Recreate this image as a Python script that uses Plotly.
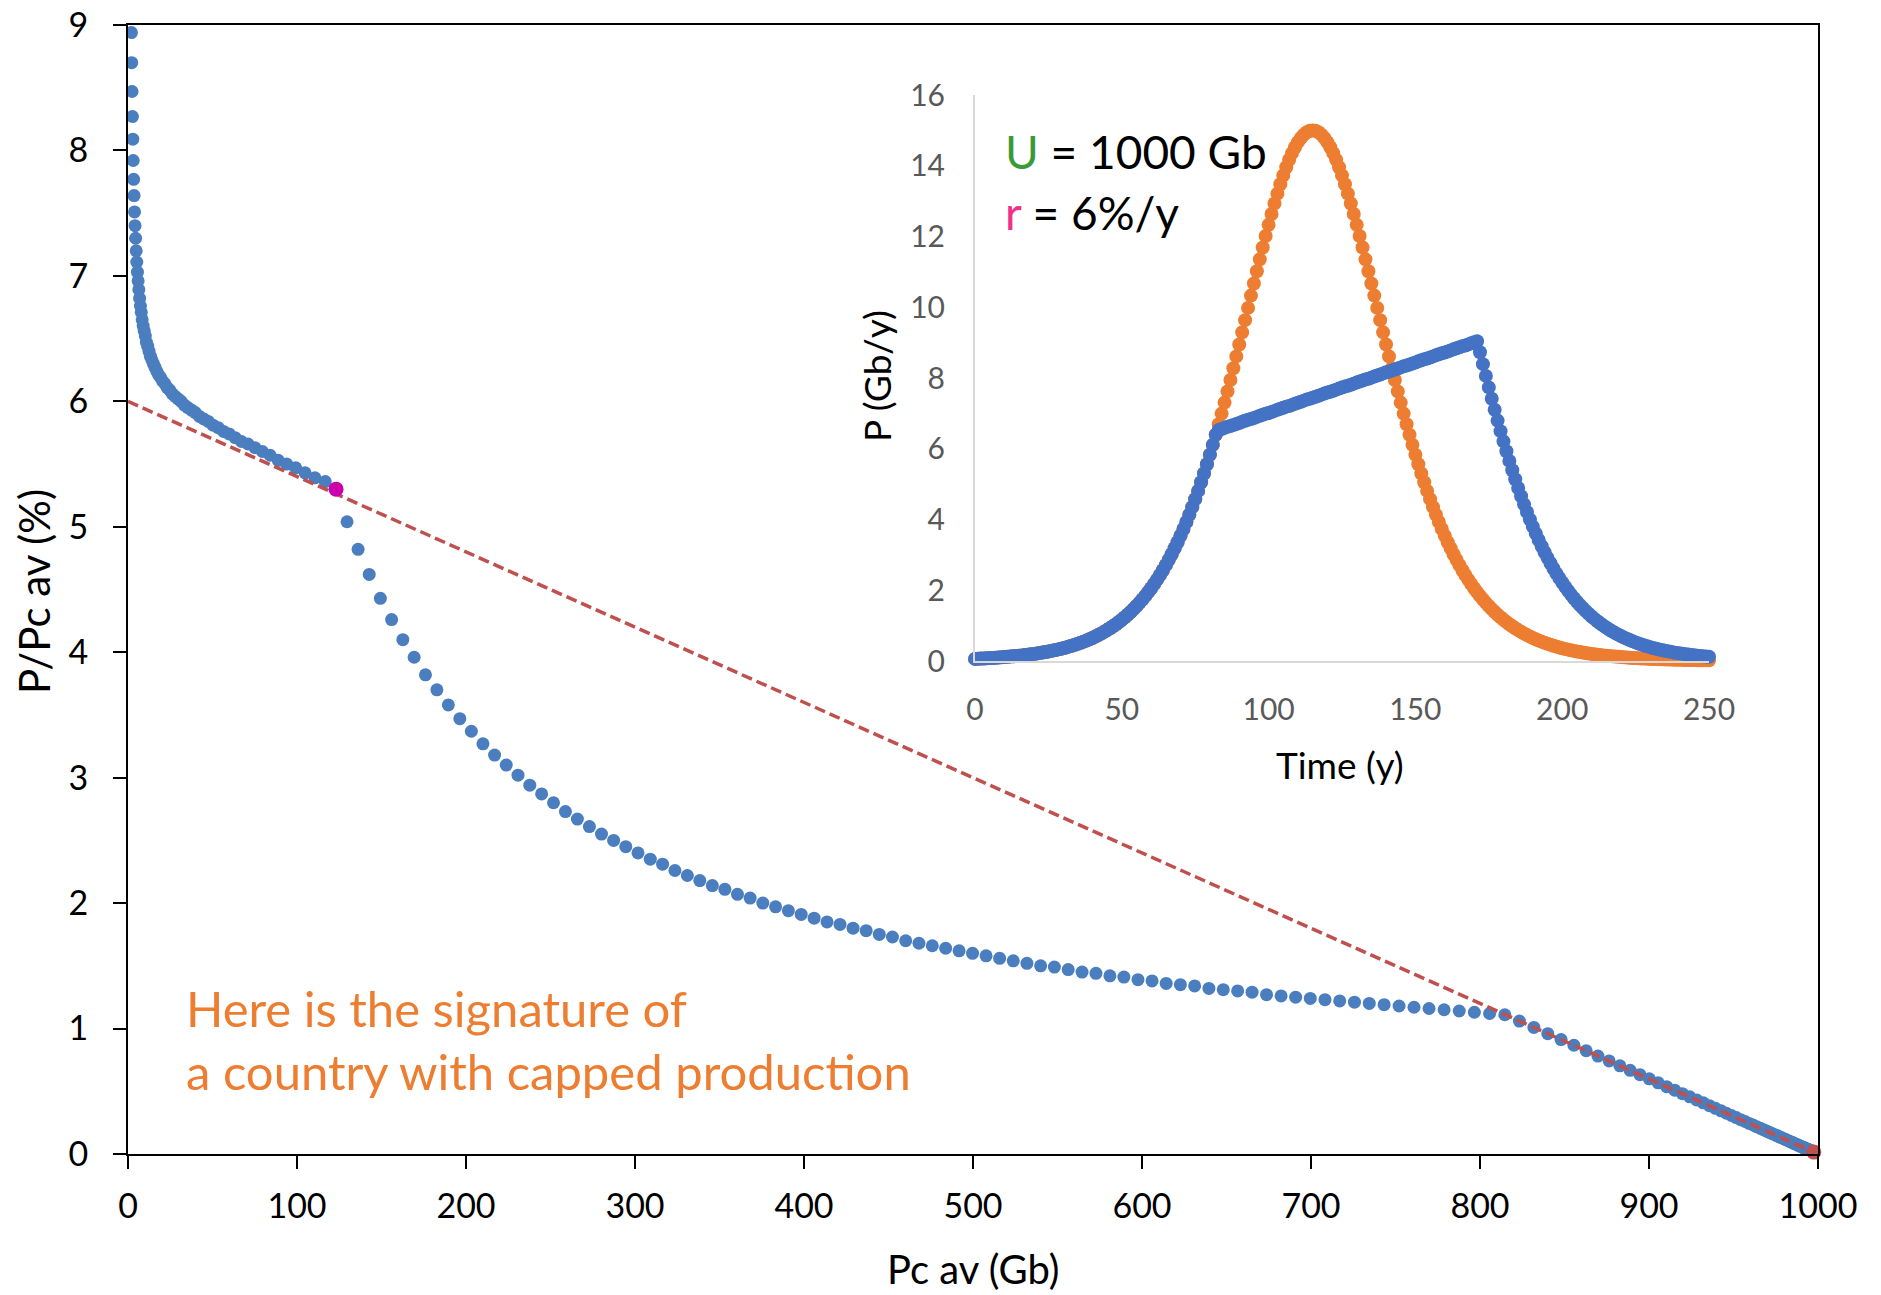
import plotly.graph_objects as go

# ---------------- main chart data (Pc av in Gb, P/Pc av in %) ----------------
pcav_early = [2.03, 2.21, 2.41, 2.62, 2.84, 3.08, 3.33, 3.60, 3.88, 4.18, 4.50, 4.84, 5.20, 5.58, 5.98,
              6.41, 6.87, 7.35, 7.86, 8.40, 8.98, 9.59, 10.24, 10.92, 11.65, 12.42, 13.24, 14.11, 15.03, 16.00,
              17.04, 18.13, 19.29, 20.52, 21.82, 23.20, 24.66, 26.20, 27.84, 29.57, 31.40, 33.34, 35.39, 37.56, 39.84,
              42.25, 44.81, 47.50, 50.35, 53.38, 56.53, 59.89, 63.42, 67.15, 71.04, 75.17, 79.55, 84.11, 88.89, 93.92,
              99.22, 104.78, 110.61, 116.70, 123.10]
ratio_early = [8.94, 8.70, 8.47, 8.27, 8.09, 7.92, 7.77, 7.64, 7.51, 7.40, 7.30, 7.20, 7.11, 7.03, 6.96,
               6.89, 6.82, 6.76, 6.71, 6.65, 6.60, 6.56, 6.52, 6.47, 6.44, 6.40, 6.36, 6.33, 6.30, 6.27,
               6.24, 6.21, 6.19, 6.16, 6.14, 6.11, 6.09, 6.06, 6.04, 6.02, 6.00, 5.97, 5.95, 5.93, 5.91,
               5.88, 5.86, 5.84, 5.81, 5.79, 5.76, 5.74, 5.71, 5.68, 5.66, 5.63, 5.60, 5.57, 5.53, 5.50,
               5.47, 5.43, 5.39, 5.36, 5.30]
pcav_capped = [129.61, 136.16, 142.73, 149.34, 155.97, 162.62, 169.31, 176.02, 182.77, 189.55,
               196.35, 203.17, 210.03, 216.92, 223.83, 230.77, 237.75, 244.75, 251.78, 258.83,
               265.92, 273.03, 280.17, 287.35, 294.55, 301.78, 309.04, 316.32, 323.63, 330.98,
               338.35, 345.75, 353.18, 360.63, 368.12, 375.63, 383.18, 390.75, 398.35, 405.98,
               413.63, 421.31, 429.03, 436.78, 444.55, 452.34, 460.17, 468.03, 475.91, 483.83,
               491.77, 499.74, 507.74, 515.76, 523.82, 531.90, 540.02, 548.16, 556.33, 564.53,
               572.75, 581.01, 589.29, 597.61, 605.95, 614.32, 622.71, 631.14, 639.59, 648.08,
               656.60, 665.13, 673.70, 682.30, 690.92, 699.58, 708.27, 716.98, 725.72, 734.48,
               743.28, 752.11, 760.96, 769.85, 778.76, 787.70, 796.67, 805.66, 814.68]
ratio_capped = [5.04, 4.82, 4.62, 4.43, 4.26, 4.10, 3.96, 3.82, 3.70, 3.58,
                3.47, 3.37, 3.27, 3.18, 3.10, 3.02, 2.94, 2.87, 2.80, 2.73,
                2.67, 2.61, 2.55, 2.50, 2.45, 2.40, 2.35, 2.31, 2.26, 2.22,
                2.18, 2.14, 2.11, 2.07, 2.04, 2.00, 1.97, 1.94, 1.91, 1.88,
                1.85, 1.83, 1.80, 1.78, 1.75, 1.73, 1.70, 1.68, 1.66, 1.64,
                1.62, 1.60, 1.58, 1.56, 1.54, 1.52, 1.50, 1.49, 1.47, 1.45,
                1.44, 1.42, 1.41, 1.39, 1.38, 1.36, 1.35, 1.34, 1.32, 1.31,
                1.30, 1.29, 1.27, 1.26, 1.25, 1.24, 1.23, 1.22, 1.21, 1.20,
                1.19, 1.18, 1.17, 1.16, 1.15, 1.14, 1.13, 1.12, 1.11]
pcav_decline = [823.32, 831.88, 840.10, 847.99, 855.57, 862.83, 869.78, 876.42, 882.78, 888.85,
                894.64, 900.16, 905.43, 910.44, 915.21, 919.76, 924.08, 928.18, 932.08, 935.78,
                939.29, 942.62, 945.79, 948.78, 951.62, 954.31, 956.86, 959.27, 961.55, 963.71,
                965.75, 967.68, 969.50, 971.23, 972.86, 974.40, 975.86, 977.23, 978.53, 979.75,
                980.91, 982.00, 983.03, 984.00, 984.92, 985.79, 986.60, 987.37, 988.10, 988.79,
                989.43, 990.04, 990.62, 991.16, 991.67, 992.15, 992.60, 993.03, 993.43, 993.82,
                994.17, 994.51, 994.83, 995.12, 995.41, 995.68, 995.93, 996.16, 996.38, 996.59,
                996.79, 996.98, 997.16, 997.32, 997.48, 997.63, 997.77, 997.89, 998.01]
ratio_decline = [1.060, 1.009, 0.959, 0.912, 0.867, 0.823, 0.781, 0.742, 0.703, 0.667,
                 0.632, 0.599, 0.567, 0.537, 0.509, 0.481, 0.456, 0.431, 0.408, 0.385,
                 0.364, 0.344, 0.325, 0.307, 0.290, 0.274, 0.259, 0.244, 0.231, 0.218,
                 0.206, 0.194, 0.183, 0.173, 0.163, 0.154, 0.145, 0.137, 0.129, 0.122,
                 0.115, 0.108, 0.102, 0.096, 0.091, 0.085, 0.080, 0.076, 0.071, 0.067,
                 0.063, 0.060, 0.056, 0.053, 0.050, 0.047, 0.044, 0.042, 0.039, 0.037,
                 0.035, 0.033, 0.031, 0.029, 0.028, 0.026, 0.024, 0.023, 0.022, 0.021,
                 0.019, 0.018, 0.017, 0.016, 0.015, 0.014, 0.013, 0.013, 0.012]
cap_point = [123.10, 5.30]          # start of capped production
hubbert_line_x = [0, 1000]          # logistic reference line
hubbert_line_y = [6, 0]
end_point = [997.5, 0.015]          # U

main_xticks = [0, 100, 200, 300, 400, 500, 600, 700, 800, 900, 1000]
main_yticks = [0, 1, 2, 3, 4, 5, 6, 7, 8, 9]

# ---------------- inset data (P in Gb/y vs time in years) ----------------
years = list(range(0, 251))
logistic_prod = [
    0.060, 0.064, 0.068, 0.072, 0.077, 0.082, 0.086, 0.092, 0.098, 0.104, 0.110, 0.117, 0.124, 0.131, 0.139,
    0.148, 0.157, 0.167, 0.177, 0.188, 0.200, 0.212, 0.225, 0.239, 0.253, 0.269, 0.285, 0.302, 0.321, 0.340,
    0.362, 0.383, 0.407, 0.432, 0.458, 0.486, 0.515, 0.547, 0.580, 0.615, 0.652, 0.692, 0.733, 0.777, 0.824,
    0.874, 0.926, 0.981, 1.039, 1.101, 1.167, 1.236, 1.309, 1.386, 1.467, 1.553, 1.644, 1.740, 1.840, 1.947,
    2.058, 2.176, 2.300, 2.430, 2.567, 2.710, 2.861, 3.019, 3.186, 3.358, 3.541, 3.731, 3.928, 4.136, 4.351,
    4.575, 4.809, 5.051, 5.302, 5.563, 5.832, 6.110, 6.396, 6.691, 6.993, 7.304, 7.621, 7.945, 8.275, 8.610,
    8.949, 9.291, 9.636, 9.982, 10.329, 10.673, 11.016, 11.354, 11.687, 12.013, 12.330, 12.637, 12.932, 13.212, 13.478,
    13.727, 13.957, 14.168, 14.357, 14.524, 14.668, 14.786, 14.879, 14.946, 14.987,
    15.000,
    14.987, 14.946, 14.879, 14.786, 14.668, 14.524, 14.357, 14.168, 13.957, 13.727, 13.478, 13.212, 12.932, 12.637, 12.330,
    12.013, 11.687, 11.354, 11.016, 10.673, 10.329, 9.982, 9.636, 9.291, 8.949, 8.610, 8.275, 7.945, 7.621, 7.304,
    6.993, 6.691, 6.396, 6.110, 5.832, 5.563, 5.302, 5.051, 4.809, 4.575, 4.351, 4.136, 3.928, 3.731, 3.541,
    3.358, 3.186, 3.019, 2.861, 2.710, 2.567, 2.430, 2.300, 2.176, 2.058, 1.947, 1.840, 1.740, 1.644, 1.553,
    1.467, 1.386, 1.309, 1.236, 1.167, 1.101, 1.039, 0.981, 0.926, 0.874, 0.824, 0.777, 0.733, 0.692, 0.652,
    0.615, 0.580, 0.547, 0.515, 0.486, 0.458, 0.432, 0.407, 0.383, 0.362, 0.340, 0.321, 0.302, 0.285, 0.269,
    0.253, 0.239, 0.225, 0.212, 0.200, 0.188, 0.177, 0.167, 0.157, 0.148, 0.139, 0.131, 0.124, 0.117, 0.110,
    0.104, 0.098, 0.092, 0.086, 0.082, 0.077, 0.072, 0.068, 0.064, 0.060, 0.057, 0.054, 0.050, 0.048, 0.045,
    0.042, 0.040, 0.037, 0.035, 0.033, 0.031, 0.029, 0.028, 0.026, 0.025, 0.023, 0.022, 0.021, 0.019, 0.018]
cap_start_year = 83
capped_prod_tail = [
    6.53, 6.56, 6.59, 6.62, 6.64, 6.67, 6.70, 6.73, 6.76, 6.79,
    6.82, 6.84, 6.87, 6.90, 6.93, 6.96, 6.99, 7.01, 7.04, 7.07,
    7.10, 7.13, 7.16, 7.19, 7.21, 7.24, 7.27, 7.30, 7.33, 7.36,
    7.39, 7.41, 7.44, 7.47, 7.50, 7.53, 7.56, 7.59, 7.61, 7.64,
    7.67, 7.70, 7.73, 7.76, 7.78, 7.81, 7.84, 7.87, 7.90, 7.93,
    7.96, 7.98, 8.01, 8.04, 8.07, 8.10, 8.13, 8.16, 8.18, 8.21,
    8.24, 8.27, 8.30, 8.33, 8.35, 8.38, 8.41, 8.44, 8.47, 8.50,
    8.53, 8.55, 8.58, 8.61, 8.64, 8.67, 8.70, 8.72, 8.75, 8.78,
    8.81, 8.84, 8.87, 8.90, 8.92, 8.95, 8.98, 9.01, 9.04,
    8.728, 8.392, 8.060, 7.734, 7.414, 7.101, 6.796, 6.498, 6.209, 5.928,
    5.656, 5.392, 5.138, 4.892, 4.656, 4.428, 4.210, 4.000, 3.798, 3.606,
    3.421, 3.245, 3.076, 2.916, 2.762, 2.616, 2.477, 2.345, 2.218, 2.099,
    1.985, 1.877, 1.774, 1.676, 1.584, 1.497, 1.414, 1.335, 1.260, 1.190,
    1.124, 1.061, 1.001, 0.945, 0.891, 0.841, 0.793, 0.748, 0.705, 0.665,
    0.627, 0.592, 0.558, 0.526, 0.496, 0.467, 0.440, 0.415, 0.392, 0.368,
    0.348, 0.327, 0.309, 0.291, 0.274, 0.258, 0.243, 0.229, 0.216, 0.204,
    0.192, 0.181, 0.170, 0.160, 0.151, 0.142, 0.134, 0.126, 0.119]
capped_prod = logistic_prod[:cap_start_year] + capped_prod_tail

inset_xticks = [0, 50, 100, 150, 200, 250]
inset_yticks = [0, 2, 4, 6, 8, 10, 12, 14, 16]

# ---------------- styling ----------------
FONT = "Lato"
BLUE_MAIN = "#4A7EBF"
BLUE_INSET = "#4472C4"
ORANGE = "#ED7D31"
RED = "#C0504D"
PINK = "#CC00AA"

W, H = 1881, 1295
ML, MR, MT, MB = 128, 63, 25, 141
PW, PH = W - ML - MR, H - MT - MB


def px(xp):
    return (xp - ML) / PW


def py(yp):
    return (H - MB - yp) / PH


fig = go.Figure()

fig.add_trace(go.Scatter(
    x=pcav_early + pcav_capped + pcav_decline,
    y=ratio_early + ratio_capped + ratio_decline,
    mode="markers", marker=dict(size=13, color=BLUE_MAIN, line=dict(width=0)),
    xaxis="x", yaxis="y", showlegend=False, hoverinfo="skip"))
fig.add_trace(go.Scatter(
    x=hubbert_line_x, y=hubbert_line_y, mode="lines",
    line=dict(color=RED, width=3.5, dash="11px,5px"),
    xaxis="x", yaxis="y", showlegend=False, hoverinfo="skip"))
fig.add_trace(go.Scatter(
    x=[cap_point[0]], y=[cap_point[1]], mode="markers",
    marker=dict(size=15, color=PINK), xaxis="x", yaxis="y", showlegend=False, hoverinfo="skip"))
fig.add_trace(go.Scatter(
    x=[end_point[0]], y=[end_point[1]], mode="markers",
    marker=dict(size=15, color=RED), xaxis="x", yaxis="y", showlegend=False,
    hoverinfo="skip", cliponaxis=False))

fig.add_trace(go.Scatter(
    x=years, y=logistic_prod, mode="markers",
    marker=dict(size=14, color=ORANGE, line=dict(width=0)),
    xaxis="x2", yaxis="y2", showlegend=False, hoverinfo="skip", cliponaxis=False))
fig.add_trace(go.Scatter(
    x=years, y=capped_prod, mode="markers",
    marker=dict(size=14, color=BLUE_INSET, line=dict(width=0)),
    xaxis="x2", yaxis="y2", showlegend=False, hoverinfo="skip", cliponaxis=False))

inset_x0, inset_x1 = px(975), px(1709)
inset_y0, inset_y1 = py(661), py(95)

fig.update_layout(
    width=W, height=H,
    margin=dict(l=ML, r=MR, t=MT, b=MB, pad=0, autoexpand=False),
    paper_bgcolor="white", plot_bgcolor="white",
    font=dict(family=FONT, color="black"),
    xaxis=dict(domain=[0, 1], range=[0, 1000], tickvals=main_xticks,
               ticks="outside", ticklen=13, tickwidth=1.5, tickcolor="black",
               showline=True, linecolor="black", linewidth=2, mirror=True,
               showgrid=False, zeroline=False, tickfont=dict(size=34, family=FONT, color="black"),
               ticklabelstandoff=8, anchor="y", automargin=False, ticklabeloverflow="allow"),
    yaxis=dict(domain=[0, 1], range=[0, 9], tickvals=main_yticks,
               ticks="outside", ticklen=13, tickwidth=1.5, tickcolor="black",
               showline=True, linecolor="black", linewidth=2, mirror=True,
               showgrid=False, zeroline=False, tickfont=dict(size=34, family=FONT, color="black"),
               ticklabelstandoff=18, anchor="x", automargin=False, ticklabeloverflow="allow"),
    xaxis2=dict(domain=[inset_x0, inset_x1], range=[0, 250], tickvals=inset_xticks,
                ticks="", showline=True, linecolor="#D9D9D9", linewidth=2,
                showgrid=False, zeroline=False,
                tickfont=dict(size=30, family=FONT, color="#595959"),
                ticklabelstandoff=21, anchor="y2", automargin=False, ticklabeloverflow="allow"),
    yaxis2=dict(domain=[inset_y0, inset_y1], range=[0, 16], tickvals=inset_yticks,
                ticks="", showline=True, linecolor="#D9D9D9", linewidth=2,
                showgrid=False, zeroline=False,
                tickfont=dict(size=30, family=FONT, color="#595959"),
                ticklabelstandoff=22, anchor="x2", automargin=False, ticklabeloverflow="allow"),
)

annotations = [
    dict(text="Pc av (Gb)", x=px(973), y=py(1269), font=dict(size=40, family=FONT, color="black"),
         xanchor="center", yanchor="middle"),
    dict(text="P/Pc av (%)", x=px(34), y=py(592), textangle=-90,
         font=dict(size=42, family=FONT, color="black"), xanchor="center", yanchor="middle"),
    dict(text="P (Gb/y)", x=px(876), y=py(376), textangle=-90,
         font=dict(size=37, family=FONT, color="black"), xanchor="center", yanchor="middle"),
    dict(text="Time (y)", x=px(1340), y=py(764),
         font=dict(size=37, family=FONT, color="black"), xanchor="center", yanchor="middle"),
    dict(text="<span style='color:#3A9A3A'>U</span> = 1000 Gb", x=px(1003), y=py(151),
         font=dict(size=46, family=FONT, color="black"), xanchor="left", yanchor="middle"),
    dict(text="<span style='color:#F0308A'>r</span> = 6%/y", x=px(1003), y=py(212),
         font=dict(size=46, family=FONT, color="black"), xanchor="left", yanchor="middle"),
    dict(text="Here is the signature of", x=px(184), y=py(1008),
         font=dict(size=49, family=FONT, color=ORANGE), xanchor="left", yanchor="middle"),
    dict(text="a country with capped production", x=px(184), y=py(1071),
         font=dict(size=49, family=FONT, color=ORANGE), xanchor="left", yanchor="middle"),
]
for a in annotations:
    a.update(xref="paper", yref="paper", showarrow=False)
fig.update_layout(annotations=annotations)

fig.write_html("out.html", config={"displayModeBar": False},
               post_script="document.body.style.margin='0';document.body.style.overflow='hidden';")
